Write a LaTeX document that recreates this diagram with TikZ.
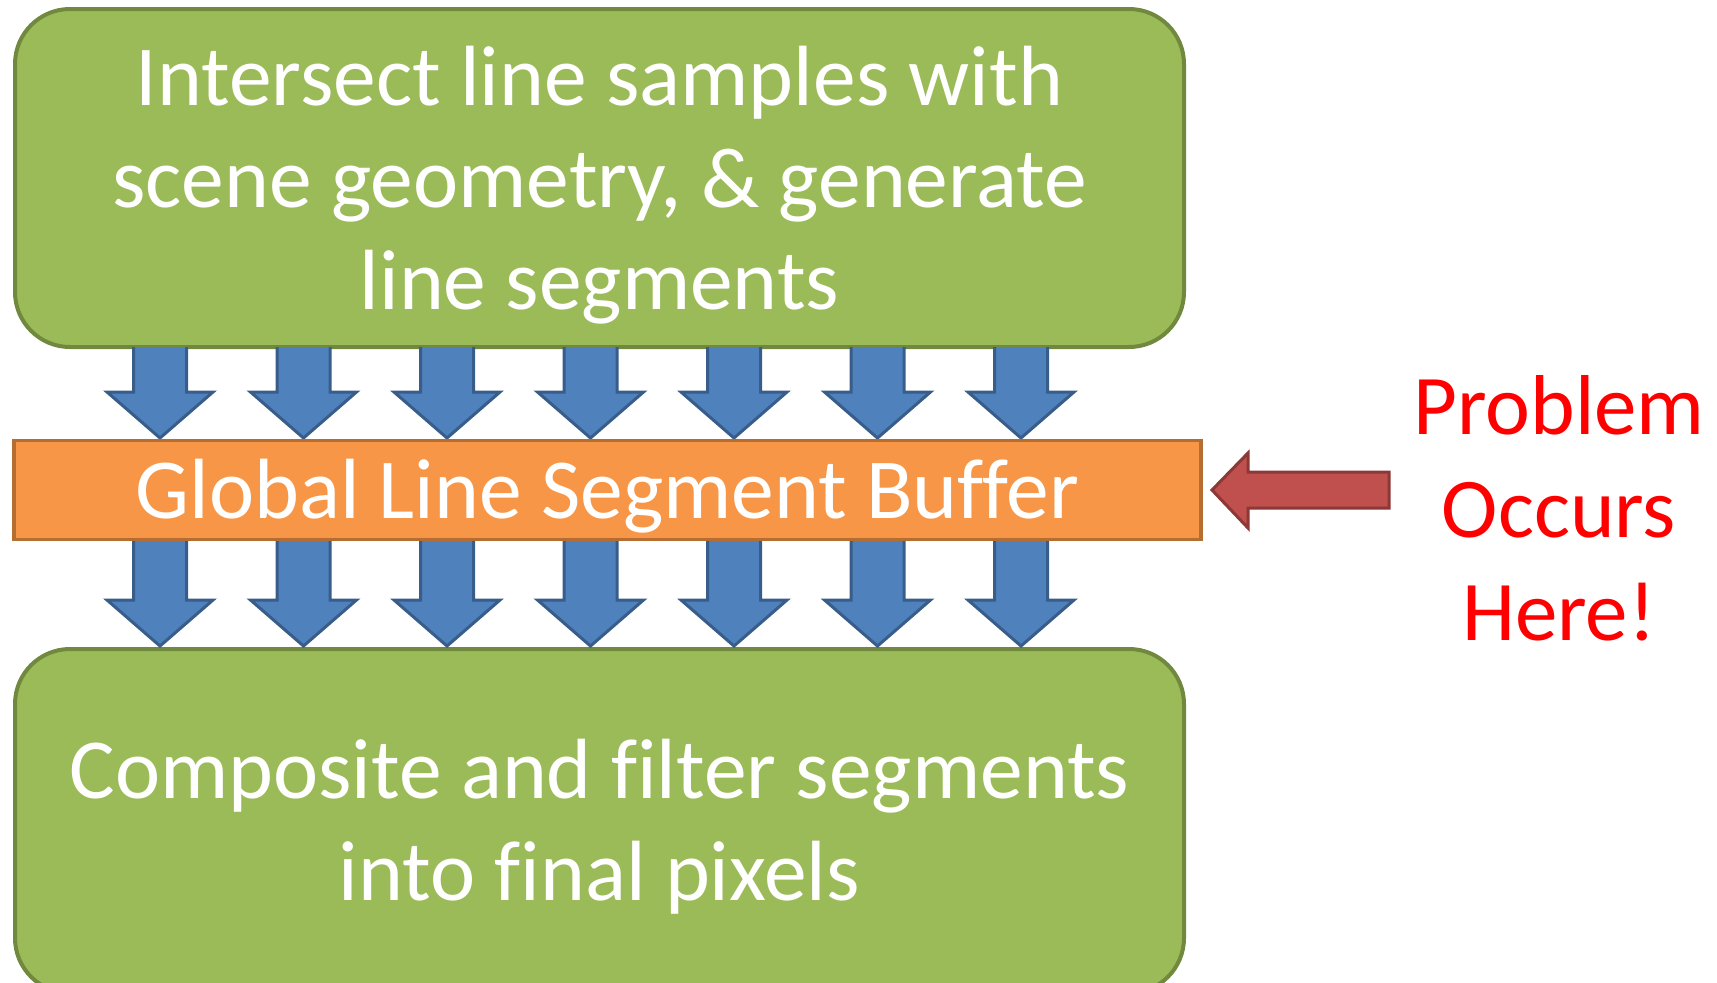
\documentclass[tikz,border=0pt]{standalone}
\usepackage{fontspec}
\setmainfont{Carlito}[Ligatures=CommonOff]
\usepackage{tikz}

\definecolor{boxgreen}{HTML}{9BBB59}
\definecolor{boxgreenline}{HTML}{71893F}
\definecolor{bufferorange}{HTML}{F79646}
\definecolor{bufferline}{HTML}{B66D31}
\definecolor{flowblue}{HTML}{4F81BD}
\definecolor{flowblueline}{HTML}{385D8A}
\definecolor{warnred}{HTML}{C0504D}
\definecolor{warnredline}{HTML}{8C3836}

\tikzset{
    stagebox/.style={shape=rectangle,rounded corners=55pt,draw=boxgreenline,fill=boxgreen,
        line width=4pt,inner sep=0pt,text=white,align=center,text depth=0pt,
        font=\fontsize{85.5}{102}\selectfont},
    bufferbox/.style={shape=rectangle,draw=bufferline,fill=bufferorange,line width=3.5pt,
        inner sep=0pt,text=white,text depth=0pt,font=\fontsize{85.5}{102}\selectfont},
    flowarrow/.style={draw=flowblueline,fill=flowblue,line width=3pt,line join=miter},
    warnarrow/.style={draw=warnredline,fill=warnred,line width=3pt,line join=miter},
}

\begin{document}
\begin{tikzpicture}[x=1pt,y=-1pt]
        \useasboundingbox (0,0) rectangle (1717,983);

        \node[stagebox,minimum width=1169pt,minimum height=338pt,text height=262pt] (intersect) at (599.5,178)
            {Intersect line samples with\\scene geometry, \& generate\\line segments};
        \node[stagebox,minimum width=1169pt,minimum height=344pt,text height=158pt] (composite) at (599.5,821)
            {Composite and filter segments\\into final pixels};

        % arrows into and out of the buffer
        \foreach \x in {160,303.5,447,590.5,734,877.5,1021} {
            \draw[flowarrow] (\x-26.5,347) -- (\x-26.5,392) -- (\x-53,392) -- (\x,438)
                -- (\x+53,392) -- (\x+26.5,392) -- (\x+26.5,347);
            \draw[flowarrow] (\x-26.5,540) -- (\x-26.5,600) -- (\x-53,600) -- (\x,646)
                -- (\x+53,600) -- (\x+26.5,600) -- (\x+26.5,540);
        }

        \node[bufferbox,minimum width=1187pt,minimum height=99pt,text height=56pt] (buffer) at (607.5,490)
            {Global Line Segment Buffer};

        \node[text=red,align=center,text height=410pt,text depth=0pt,
            font=\fontsize{85}{103}\selectfont] (problem) at (1559,435)
            {Problem\\Occurs\\Here!};

        \draw[warnarrow] (1389,472) -- (1248,472) -- (1248,453) -- (1212,490) -- (1248,528)
            -- (1248,508) -- (1389,508) -- cycle;
    \end{tikzpicture}
\end{document}
